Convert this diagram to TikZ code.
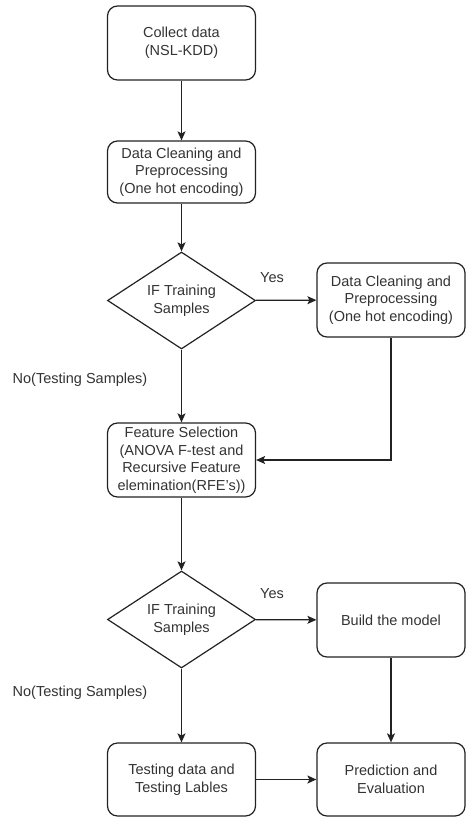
\documentclass[tikz,border=0pt]{standalone}
\usepackage{fontspec}
\setmainfont{Liberation Sans}
\usetikzlibrary{shapes.geometric,arrows.meta}
\definecolor{txt}{HTML}{333333}
\definecolor{ln}{HTML}{222222}
\tikzset{
  box/.style={draw=ln, line width=1.2pt, rounded corners=10pt, minimum width=148pt, align=center, text=txt, font=\fontsize{14.5}{17.5}\selectfont, inner sep=0pt},
  dec/.style={draw=ln, line width=1.2pt, diamond, aspect=1.52, minimum width=148pt, minimum height=97pt, align=center, text=txt, font=\fontsize{14.5}{17.5}\selectfont, inner sep=0pt},
  conn/.style={draw=ln, line width=1.2pt, -{Stealth[length=9pt,width=8pt,inset=2pt]}},
  lbl/.style={text=txt, font=\fontsize{14.5}{17.5}\selectfont, inner sep=0pt}
}
\begin{document}
\begin{tikzpicture}[x=1pt,y=-1pt]
\useasboundingbox (0,0) rectangle (466,818);
\node[box, minimum height=74pt] (collect) at (181.5,43) {Collect data\\(NSL-KDD)};
\node[box, minimum height=62pt] (clean1) at (181.5,172) {Data Cleaning and\\Preprocessing\\(One hot encoding)};
\node[dec] (if1) at (181.5,300.5) {IF Training\\Samples};
\node[box, minimum height=74pt] (clean2) at (391,300) {Data Cleaning and\\Preprocessing\\(One hot encoding)};
\node[box, minimum height=74pt] (feat) at (181.5,460) {Feature Selection\\(ANOVA F-test and\\Recursive Feature\\elemination(RFE's))};
\node[dec] (if2) at (181.5,619.5) {IF Training\\Samples};
\node[box, minimum height=74pt] (build) at (391,620) {Build the model};
\node[box, minimum height=73pt] (test) at (181.5,779.5) {Testing data and\\Testing Lables};
\node[box, minimum height=73pt] (pred) at (391,779.5) {Prediction and\\Evaluation};
\node[lbl] (yes1) at (272,278) {Yes};
\node[lbl] (no1) at (80,380) {No(Testing Samples)};
\node[lbl] (yes2) at (272,594) {Yes};
\node[lbl] (no2) at (80,693) {No(Testing Samples)};
\draw[conn] (collect) -- (clean1);
\draw[conn] (clean1) -- (if1);
\draw[conn] (if1) -- (clean2);
\draw[conn] (if1) -- (feat);
\draw[conn] (clean2.south) |- (feat.east);
\draw[conn] (feat) -- (if2);
\draw[conn] (if2) -- (build);
\draw[conn] (if2) -- (test);
\draw[conn] (build) -- (pred);
\draw[conn] (test) -- (pred);
\end{tikzpicture}
\end{document}
